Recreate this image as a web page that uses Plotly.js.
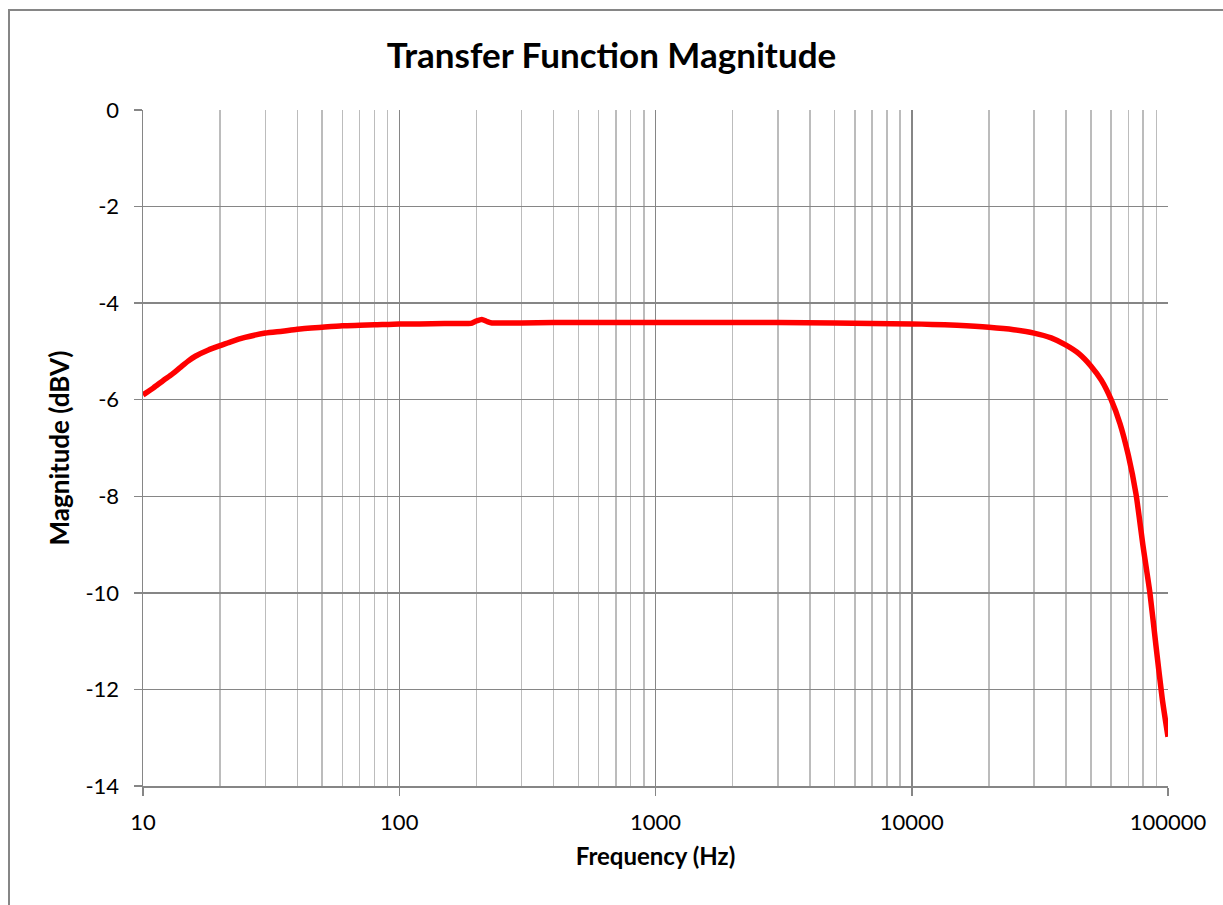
<!DOCTYPE html>
<html>
<head>
<meta charset="utf-8">
<script src="https://cdn.plot.ly/plotly-3.0.1.min.js"></script>
<style>html,body{margin:0;padding:0;background:#fff;}#chart{width:1223px;height:905px;}</style>
</head>
<body>
<div id="chart"></div>
<script>
// Frequency (Hz)
const freq = [10, 11, 12, 13, 14, 15, 16, 18, 20, 22, 25, 30, 35, 40, 50, 60, 70, 80, 100, 120, 150, 180, 190, 200, 210, 220, 230, 250, 300, 400, 500, 700, 1000, 2000, 3000, 5000, 7000, 10000, 12000, 15000, 20000, 25000, 30000, 35000, 40000, 45000, 50000, 55000, 60000, 65000, 70000, 75000, 80000, 85000, 90000, 95000, 100000];
// Magnitude (dBV)
const magnitude = [-5.90, -5.75, -5.60, -5.47, -5.33, -5.20, -5.10, -4.97, -4.88, -4.80, -4.71, -4.62, -4.58, -4.54, -4.50, -4.47, -4.46, -4.45, -4.43, -4.43, -4.42, -4.42, -4.42, -4.37, -4.34, -4.38, -4.41, -4.41, -4.41, -4.40, -4.40, -4.40, -4.40, -4.40, -4.40, -4.41, -4.42, -4.43, -4.44, -4.46, -4.50, -4.55, -4.62, -4.72, -4.87, -5.05, -5.30, -5.60, -6.00, -6.50, -7.15, -7.95, -9.05, -10.0, -11.15, -12.2, -12.98];

const xTickVals = [10, 100, 1000, 10000, 100000];
const xTickText = ['10', '100', '1000', '10000', '100000'];
const yTickVals = [0, -2, -4, -6, -8, -10, -12, -14];
const yTickText = ['0', '-2', '-4', '-6', '-8', '-10', '-12', '-14'];

const minorX = [];
for (let d = 10; d < 100000; d *= 10) {
  for (let k = 2; k <= 9; k++) minorX.push(d * k);
}

const FONT = 'Lato, "Open Sans", sans-serif';
const W = 1223, H = 905, L = 143, R = 55, T = 110, B = 119;
const pw = W - L - R, ph = H - T - B;

const trace = {
  x: freq, y: magnitude, type: 'scatter', mode: 'lines',
  line: {color: '#ff0000', width: 5.5, shape: 'spline', smoothing: 0.6},
  hoverinfo: 'x+y'
};

const layout = {
  width: W, height: H,
  margin: {l: L, r: R, t: T, b: B, pad: 0},
  paper_bgcolor: '#ffffff', plot_bgcolor: '#ffffff',
  showlegend: false,
  font: {family: FONT, color: '#000', size: 22},
  title: {text: '<b>Transfer Function Magnitude</b>', font: {family: FONT, size: 35, color: '#000'}, x: 0.5, xanchor: 'center', y: 1 - 56 / H, yanchor: 'middle'},
  xaxis: {
    type: 'log', range: [1, 5],
    tickvals: xTickVals, ticktext: xTickText,
    ticks: 'outside', ticklen: 8, tickcolor: '#868686', tickwidth: 1.5,
    ticklabelstandoff: 8,
    showgrid: true, gridcolor: '#868686', gridwidth: 1.5,
    minor: {tickvals: minorX, showgrid: true, gridcolor: '#bcbcbc', gridwidth: 1.5, ticks: ''},
    showline: true, linecolor: '#868686', linewidth: 1.5, mirror: false,
    zeroline: false,
    tickfont: {family: FONT, size: 22, color: '#000'},
    title: {text: '<b>Frequency (Hz)</b>', font: {family: FONT, size: 24, color: '#000'}, standoff: 14}
  },
  yaxis: {
    range: [-14, 0], tickvals: yTickVals, ticktext: yTickText,
    ticks: 'outside', ticklen: 8, tickcolor: '#868686', tickwidth: 1.5,
    ticklabelstandoff: 10,
    showgrid: true, gridcolor: '#868686', gridwidth: 1.5,
    showline: true, linecolor: '#868686', linewidth: 1.5,
    zeroline: false,
    tickfont: {family: FONT, size: 22, color: '#000'},
    title: {text: '<b>Magnitude (dBV)</b>', font: {family: FONT, size: 26, color: '#000'}, standoff: 8}
  },
  shapes: [
    {type: 'rect', xref: 'paper', yref: 'paper',
     x0: (9 - L) / pw, x1: (1240 - L) / pw,
     y0: (H - B - 920) / ph, y1: (H - B - 10) / ph,
     line: {color: '#868686', width: 2}, fillcolor: 'rgba(0,0,0,0)', layer: 'below'}
  ]
};

Plotly.newPlot('chart', [trace], layout, {displayModeBar: false, staticPlot: true});
</script>
</body>
</html>
